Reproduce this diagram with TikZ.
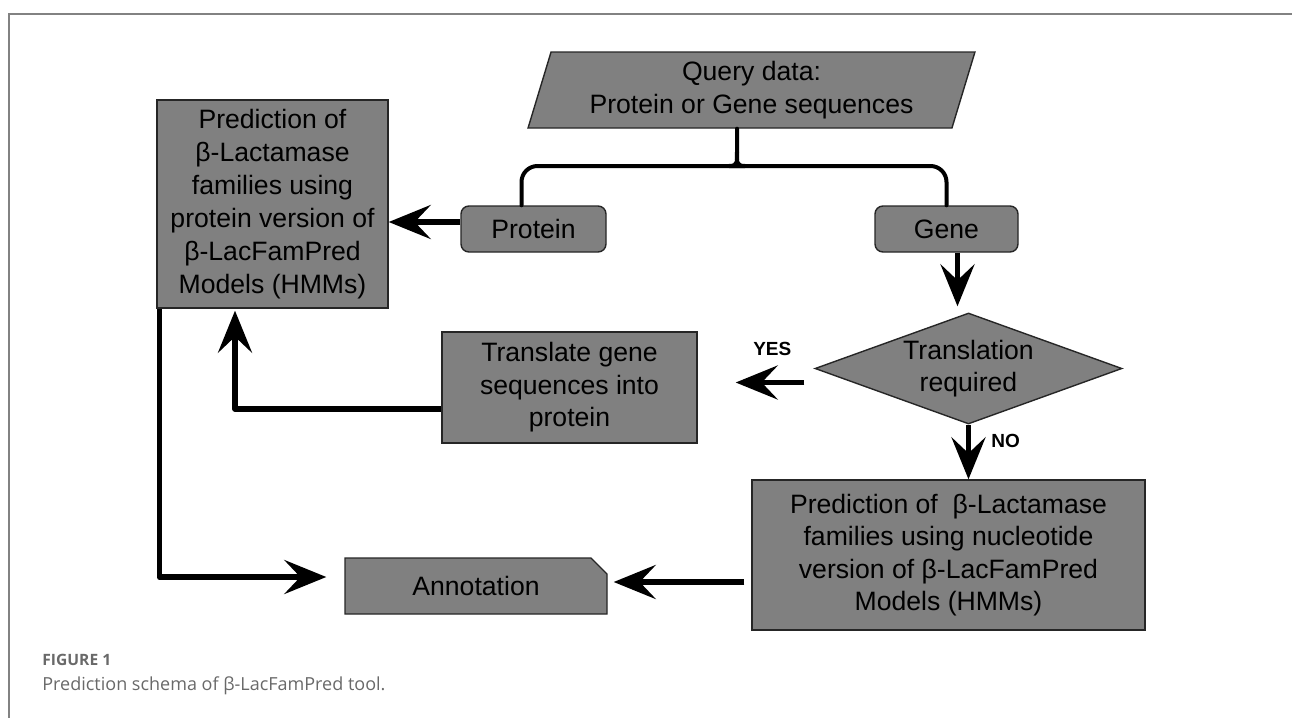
\documentclass[tikz,border=0pt]{standalone}
\usepackage{fontspec}
\setmainfont{Liberation Sans}
\newfontfamily\capfont{Open Sans}
\usepackage{tikz}
\usetikzlibrary {arrows.meta,
                 calc,
                 positioning,
                 shapes.geometric,
                 shapes.misc}
\definecolor{boxgray}{RGB}{128,128,128}
\definecolor{framegray}{RGB}{130,130,130}
\definecolor{capgray}{RGB}{105,105,105}
\tikzset{
        base/.style={draw=black!85, line width=0.7pt, fill=boxgray, align=center,
                     font=\fontsize{13.3}{16.2}\selectfont, inner sep=0pt},
        proc/.style={base, rectangle},
        io/.style={base, trapezium, trapezium left angle=72, trapezium right
                   angle=108, trapezium stretches=true},
        test/.style={base, diamond, aspect=2.77},
        term/.style={proc, rounded corners=4pt},
        note/.style={base, chamfered rectangle, chamfered rectangle
                     corners=north east, chamfered rectangle xsep=4pt,
                     chamfered rectangle ysep=4pt},
        myarrow/.style={-{Stealth[length=21pt, width=17pt, inset=8pt]},
                        line width=2.8pt, line join=round},
        bracel/.style={line width=2pt, line cap=round},
        flag/.style={font=\fontsize{9.5}{11}\selectfont\bfseries, inner sep=0pt},
 }

\begin{document}
\begin{tikzpicture}[x=0.5pt, y=-0.5pt]
    \useasboundingbox (0,0) rectangle (1292,718);
    \draw[framegray, line width=0.8pt] (9,718) -- (9,14) -- (1292,14);

    \node[io, minimum width=223.5pt, minimum height=38pt] (query) at (751.5,90)
        {Query data:\\Protein or Gene sequences};
    \node[term, minimum width=72.5pt, minimum height=23pt] (protein) at (533.5,229) {Protein};
    \node[term, minimum width=71.5pt, minimum height=23pt] (gene) at (946.5,229) {Gene};

    \node[proc, minimum width=115.5pt, minimum height=104pt,
          font=\fontsize{13.3}{16.5}\selectfont] (predprot) at (272.5,204)
        {Prediction of\\β-Lactamase\\families using\\protein version of\\β-LacFamPred\\Models (HMMs)};

    \node[test, minimum width=153.5pt, minimum height=55.5pt] (transreq) at (968.5,368.5)
        {Translation\\required};
    \node[proc, minimum width=127.5pt, minimum height=55.5pt] (translate) at (569.5,387.5)
        {Translate gene\\sequences into\\protein};

    \node[proc, minimum width=196.5pt, minimum height=75pt] (prednuc) at (948.5,555)
        {Prediction of \ β-Lactamase\\families using nucleotide\\version of β-LacFamPred\\Models (HMMs)};
    \node[note, minimum width=131pt, minimum height=28pt] (annot) at (476,586) {Annotation};

    % brace under the query
    \coordinate (barl) at (729,166);
    \coordinate (barr) at (745,166);
    \coordinate (tip) at (737,152);
    \draw[bracel] ([xshift=-6pt]protein.north) [rounded corners=8pt] |- (barl)
        [sharp corners] .. controls +(6,0) and +(0,8) .. (tip) -- (tip |- query.south);
    \draw[bracel] (gene.north) [rounded corners=8pt] |- (barr)
        [sharp corners] .. controls +(-6,0) and +(0,8) .. (tip);

    \draw[myarrow] ([yshift=3.5pt]protein.west) -- ([yshift=3.5pt]protein.west -| predprot.east);
    \draw[myarrow, shorten >=3pt] ([xshift=5.5pt]gene.south) -- ([xshift=5.5pt]gene.south |- transreq.north);

    \draw[myarrow, shorten <=5pt, shorten >=19pt] ([yshift=-7pt]transreq.west)
        -- ([yshift=-7pt]transreq.west -| translate.east) node[flag, pos=0.36, above=12pt] (yes) {YES};
    \draw[myarrow, shorten >=1pt] ([yshift=-10.75pt]translate.west) -| ([xshift=-18.75pt]predprot.south);

    \draw[myarrow] (transreq.south) -- (transreq.south |- prednuc.north)
        node[flag, pos=0.3, right=10pt] (no) {NO};
    \draw[myarrow, shorten <=3.5pt, shorten >=3pt] ([yshift=-13.5pt]prednuc.west)
        -- ([yshift=-13.5pt]prednuc.west -| annot.east);
    \draw[myarrow, shorten >=9pt] ([xshift=1.5pt]predprot.south west) |- ([yshift=4.5pt]annot.west);

    % caption
    \node[anchor=west, inner sep=0pt, text=capgray,
          font=\capfont\bfseries\fontsize{7.8}{9}\selectfont] (fig) at (42,660) {FIGURE 1};
    \node[anchor=west, inner sep=0pt, text=capgray,
          font=\capfont\fontsize{9}{10}\selectfont] (cap) at (42,686)
        {Prediction schema of β-LacFamPred tool.};
\end{tikzpicture}
\end{document}
